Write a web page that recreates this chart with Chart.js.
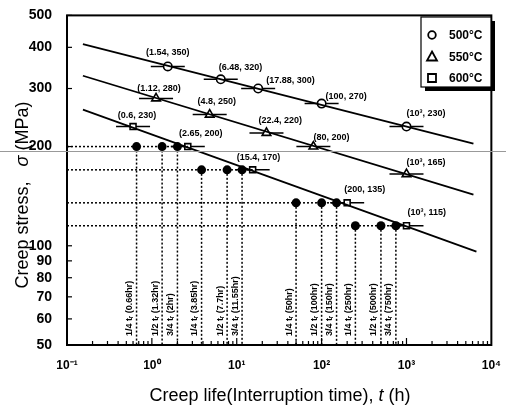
<!DOCTYPE html>
<html>
<head>
<meta charset="utf-8">
<script src="https://cdn.jsdelivr.net/npm/chart.js@4.4.1/dist/chart.umd.min.js"></script>
<style>
  body { margin: 0; background: #fff; }
  canvas { display: block; }
</style>
</head>
<body>
<canvas id="creep-chart" width="506" height="410"></canvas>
<script>
// creep rupture data (time in h, stress in MPa)
var temps = ['500°C', '550°C', '600°C'];
var life500 = [1.54, 6.48, 17.88, 100, 1000];
var stress500 = [350, 320, 300, 270, 230];
var life550 = [1.12, 4.8, 22.4, 80, 1000];
var stress550 = [280, 250, 220, 200, 165];
var life600 = [0.6, 2.65, 15.4, 200, 1000];
var stress600 = [230, 200, 170, 135, 115];

// fitted lines, end points
var fitLife500 = [0.154, 6150];
var fitStress500 = [409, 204];
var fitLife550 = [0.154, 6150];
var fitStress550 = [328, 143];
var fitLife600 = [0.154, 6670];
var fitStress600 = [259, 96];

// interrupted tests
var interruptStress = [200, 170, 135, 115];
var ruptureLife = [2.65, 15.4, 200, 1000];
var interruptLife = [[0.66, 1.32, 2], [3.85, 7.7, 11.55], [50, 100, 150], [250, 500, 750]];
var interruptFrac = ['1/4', '1/2', '3/4'];

// ticks
var xTicks = [0.1, 1, 10, 100, 1000, 10000];
var xTickText = ['10⁻¹', '10⁰', '10¹', '10²', '10³', '10⁴'];
var yTicks = [50, 60, 70, 80, 90, 100, 200, 300, 400, 500];

// label placement next to each open marker: [dx, dy, align]
var labelPos = [
    [[0, -14, 'center'], [-2, -12, 'left'], [8, -8, 'left'], [4, -7, 'left'], [0, -13, 'left']],
    [[3, -10, 'center'], [7, -13, 'center'], [-8, -12, 'left'], [0, -9, 'left'], [0, -12, 'left']],
    [[4, -11, 'center'], [13, -13, 'center'], [-16, -12, 'left'], [-3, -13, 'left'], [1, -13, 'left']]
];

var FONT = '"Liberation Sans", Arial, sans-serif';

function pts(xs, ys) {
    return xs.map(function(x, i) { return {x: x, y: ys[i]}; });
}
function fmtLife(v) {
    return v === 1000 ? '10³' : String(v);
}

var datasets = [];

// dotted guide lines
interruptStress.forEach(function(s, i) {
    datasets.push({
        data: [{x: 0.1, y: s}, {x: ruptureLife[i], y: s}],
        showLine: true, pointRadius: 0, borderColor: '#000', borderWidth: 1.5, borderDash: [2, 2]
    });
    interruptLife[i].forEach(function(t) {
        datasets.push({
            data: [{x: t, y: s}, {x: t, y: 50}],
            showLine: true, pointRadius: 0, borderColor: '#000', borderWidth: 1.5, borderDash: [2, 2]
        });
    });
});

// fitted lines
[[fitLife500, fitStress500], [fitLife550, fitStress550], [fitLife600, fitStress600]].forEach(function(f) {
    datasets.push({
        data: pts(f[0], f[1]),
        showLine: true, pointRadius: 0, borderColor: '#000', borderWidth: 1.8
    });
});

// interrupted test points
var dots = [];
interruptStress.forEach(function(s, i) {
    interruptLife[i].forEach(function(t) { dots.push({x: t, y: s}); });
});
datasets.push({
    data: dots, pointRadius: 4.5, pointBackgroundColor: '#000', pointBorderColor: '#000', borderWidth: 0
});

// rupture points
var styles = ['circle', 'triangle', 'rect'];
[[life500, stress500], [life550, stress550], [life600, stress600]].forEach(function(s, k) {
    datasets.push({
        label: temps[k],
        data: pts(s[0], s[1]),
        pointStyle: styles[k],
        pointRadius: k === 1 ? 5 : 4.2,
        pointBackgroundColor: '#fff',
        pointBorderColor: '#000',
        pointBorderWidth: 1.6,
        isRupture: true,
        series: k
    });
});

var extras = {
    id: 'extras',
    beforeDatasetsDraw: function(chart) {
        var ctx = chart.ctx;
        ctx.save();
        ctx.strokeStyle = '#000';
        ctx.lineWidth = 1.5;
        chart.data.datasets.forEach(function(ds, di) {
            if (!ds.isRupture) return;
            chart.getDatasetMeta(di).data.forEach(function(p) {
                ctx.beginPath();
                ctx.moveTo(p.x - 17, p.y);
                ctx.lineTo(p.x + 17, p.y);
                ctx.stroke();
            });
        });
        ctx.restore();
    },
    afterDatasetsDraw: function(chart) {
        var ctx = chart.ctx;
        var a = chart.chartArea;
        var xs = chart.scales.x, ys = chart.scales.y;
        ctx.save();

        // frame
        ctx.strokeStyle = '#000';
        ctx.lineWidth = 2;
        ctx.strokeRect(a.left, a.top, a.right - a.left, a.bottom - a.top);

        // inner ticks
        ctx.lineWidth = 1.2;
        for (var d = -1; d < 4; d++) {
            for (var m = 1; m < 10; m++) {
                var px = xs.getPixelForValue(m * Math.pow(10, d));
                ctx.beginPath();
                ctx.moveTo(px, a.bottom);
                ctx.lineTo(px, a.bottom - (m === 1 ? 7 : 4));
                ctx.stroke();
            }
        }
        yTicks.forEach(function(v) {
            var py = ys.getPixelForValue(v);
            ctx.beginPath();
            ctx.moveTo(a.left, py);
            ctx.lineTo(a.left + 5, py);
            ctx.stroke();
        });

        // point labels
        ctx.fillStyle = '#000';
        ctx.font = 'bold 9px ' + FONT;
        ctx.textBaseline = 'middle';
        chart.data.datasets.forEach(function(ds, di) {
            if (!ds.isRupture) return;
            chart.getDatasetMeta(di).data.forEach(function(p, i) {
                var lp = labelPos[ds.series][i];
                var v = ds.data[i];
                ctx.textAlign = lp[2];
                ctx.fillText('(' + fmtLife(v.x) + ', ' + v.y + ')', p.x + lp[0], p.y + lp[1]);
            });
        });

        // interruption labels
        ctx.font = 'bold 9px ' + FONT;
        ctx.textAlign = 'left';
        ctx.textBaseline = 'middle';
        interruptLife.forEach(function(row) {
            row.forEach(function(t, j) {
                var px = xs.getPixelForValue(t);
                ctx.save();
                ctx.translate(px - 7, a.bottom - 9);
                ctx.rotate(-Math.PI / 2);
                ctx.fillText(interruptFrac[j] + ' tᵣ (' + t + 'hr)', 0, 0);
                ctx.restore();
            });
        });

        // legend
        var lx = 421, ly = 17, lw = 70, lh = 70;
        ctx.fillStyle = '#000';
        ctx.fillRect(lx + 4, ly + 4, lw, lh);
        ctx.fillStyle = '#fff';
        ctx.fillRect(lx, ly, lw, lh);
        ctx.lineWidth = 1.2;
        ctx.strokeRect(lx, ly, lw, lh);
        ctx.font = 'bold 12px ' + FONT;
        ctx.textAlign = 'left';
        ctx.fillStyle = '#000';
        temps.forEach(function(t, k) {
            var yy = ly + 18 + k * 21.5;
            ctx.lineWidth = 1.8;
            ctx.beginPath();
            if (k === 0) {
                ctx.arc(lx + 11, yy, 3.8, 0, Math.PI * 2);
            } else if (k === 1) {
                ctx.moveTo(lx + 11, yy - 5);
                ctx.lineTo(lx + 16, yy + 4);
                ctx.lineTo(lx + 6, yy + 4);
                ctx.closePath();
            } else {
                ctx.rect(lx + 7, yy - 4, 8, 8);
            }
            ctx.stroke();
            ctx.fillText(t, lx + 28, yy + 1);
        });

        ctx.restore();
    },
    afterDraw: function(chart) {
        var ctx = chart.ctx;
        ctx.save();
        ctx.fillStyle = '#000';

        // x title
        var y0 = 396;
        var parts = [['Creep life(Interruption time), ', ''], ['t', 'italic '], [' (h)', '']];
        var total = 0;
        parts.forEach(function(p) {
            ctx.font = p[1] + '18px ' + FONT;
            total += ctx.measureText(p[0]).width;
        });
        var x0 = 280 - total / 2;
        ctx.textBaseline = 'middle';
        ctx.textAlign = 'left';
        parts.forEach(function(p) {
            ctx.font = p[1] + '18px ' + FONT;
            ctx.fillText(p[0], x0, y0);
            x0 += ctx.measureText(p[0]).width;
        });

        // y title
        var yparts = [['Creep stress,   ', ''], ['σ', 'italic '], [' (MPa)', '']];
        total = 0;
        yparts.forEach(function(p) {
            ctx.font = p[1] + '18px ' + FONT;
            total += ctx.measureText(p[0]).width;
        });
        ctx.translate(23, 195);
        ctx.rotate(-Math.PI / 2);
        var s0 = -total / 2;
        yparts.forEach(function(p) {
            ctx.font = p[1] + '18px ' + FONT;
            ctx.fillText(p[0], s0, 0);
            s0 += ctx.measureText(p[0]).width;
        });
        ctx.restore();

        // scan line across the page
        ctx.save();
        ctx.strokeStyle = '#999';
        ctx.lineWidth = 1;
        ctx.beginPath();
        ctx.moveTo(0, 151.5);
        ctx.lineTo(506, 151.5);
        ctx.stroke();
        ctx.restore();
    }
};

var cc = document.getElementById('creep-chart').getContext('2d');
var creepChart = new Chart(cc, {
    type: 'scatter',
    data: { datasets: datasets },
    options: {
        responsive: false,
        animation: false,
        devicePixelRatio: 1,
        layout: { padding: { left: 0, right: 13, top: 12, bottom: 0 } },
        plugins: {
            legend: { display: false },
            tooltip: { enabled: false }
        },
        scales: {
            x: {
                type: 'logarithmic',
                min: 0.1,
                max: 10000,
                afterBuildTicks: function(s) { s.ticks = xTicks.map(function(v) { return {value: v}; }); },
                afterFit: function(s) { s.height = 65; },
                grid: { display: false },
                border: { display: false },
                ticks: {
                    autoSkip: false,
                    maxRotation: 0,
                    padding: 5,
                    color: '#000',
                    font: { family: FONT, size: 12, weight: 'bold' },
                    callback: function(v, i) { return xTickText[i]; }
                }
            },
            y: {
                type: 'logarithmic',
                min: 50,
                max: 500,
                afterBuildTicks: function(s) { s.ticks = yTicks.map(function(v) { return {value: v}; }); },
                afterFit: function(s) { s.width = 67; },
                grid: { display: false },
                border: { display: false },
                ticks: {
                    autoSkip: false,
                    padding: 7,
                    color: '#000',
                    font: { family: FONT, size: 14, weight: 'bold' },
                    callback: function(v) { return String(v); }
                }
            }
        }
    },
    plugins: [extras]
});
</script>
</body>
</html>
